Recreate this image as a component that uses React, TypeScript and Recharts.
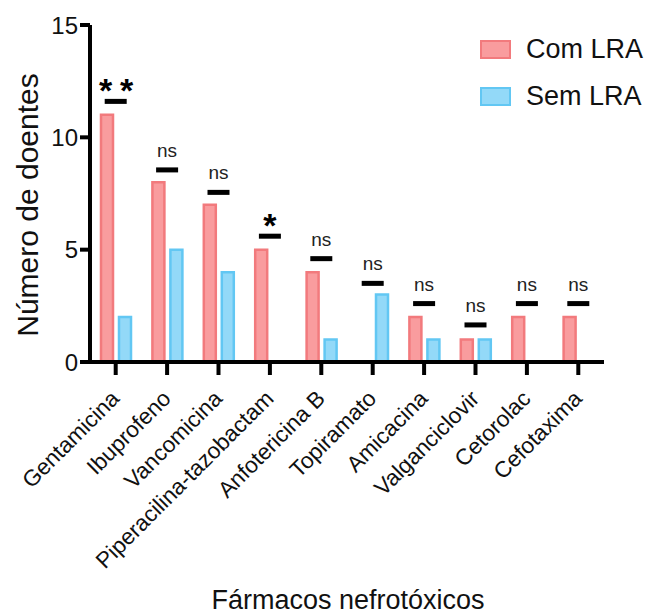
import React from 'react';
import { ComposedChart, Bar, Scatter, XAxis, YAxis, Legend } from 'recharts';

// drug names (x categories)
const farmacos = [
  'Gentamicina',
  'Ibuprofeno',
  'Vancomicina',
  'Piperacilina-tazobactam',
  'Anfotericina B',
  'Topiramato',
  'Amicacina',
  'Valganciclovir',
  'Cetorolac',
  'Cefotaxima',
];

const comLRA = [11, 8, 7, 5, 4, 0, 2, 1, 2, 2];
const semLRA = [2, 5, 4, 0, 1, 3, 1, 1, 0, 0];

// height of the significance bar and its label
const sigLevel = [11.6, 8.55, 7.55, 5.6, 4.6, 3.5, 2.6, 1.65, 2.6, 2.6];
const sigLabel = ['**', 'ns', 'ns', '*', 'ns', 'ns', 'ns', 'ns', 'ns', 'ns'];

const yTicks = [0, 5, 10, 15];

const data = farmacos.map((name, i) => ({
  name,
  com: comLRA[i],
  sem: semLRA[i],
  sig: sigLevel[i],
  label: sigLabel[i],
}));

const FONT = '"Liberation Sans", Arial, Helvetica, sans-serif';

const RED_FILL = '#F99C9E';
const RED_STROKE = '#F27A7D';
const BLUE_FILL = '#93D9F8';
const BLUE_STROKE = '#62C7F3';

const Star = ({ x, y }: { x: number; y: number }) => (
  <text x={x} y={y} textAnchor="middle" fontSize={34} fontWeight="bold" fill="#000" fontFamily={FONT}>
    *
  </text>
);

const SigMark = (props: any) => {
  const { cx, cy, payload } = props;
  if (cx == null || cy == null) return null;
  const label: string = payload.label;
  return (
    <g>
      <rect x={cx - 11} y={cy - 2.5} width={22} height={5} fill="#000" />
      {label === 'ns' ? (
        <text x={cx} y={cy - 13} textAnchor="middle" fontSize={19} fill="#222" fontFamily={FONT}>
          ns
        </text>
      ) : label === '**' ? (
        <g>
          <Star x={cx - 10} y={cy + 1} />
          <Star x={cx + 11} y={cy + 1} />
        </g>
      ) : (
        <Star x={cx} y={cy + 1} />
      )}
    </g>
  );
};

const XTick = (props: any) => {
  const { x, y, payload } = props;
  return (
    <g transform={`translate(${x + 5},${y + 23})`}>
      <text x={0} y={0} textAnchor="end" transform="rotate(-45)" fontSize={22.5} fill="#111" fontFamily={FONT}>
        {payload.value}
      </text>
    </g>
  );
};

const LegendBox = () => {
  const rows = [
    { name: 'Com LRA', fill: RED_FILL, stroke: RED_STROKE },
    { name: 'Sem LRA', fill: BLUE_FILL, stroke: BLUE_STROKE },
  ];
  return (
    <div style={{ fontFamily: FONT }}>
      {rows.map((r) => (
        <div key={r.name} style={{ display: 'flex', alignItems: 'center', height: 47 }}>
          <div
            style={{
              width: 27,
              height: 15,
              background: r.fill,
              border: `2.5px solid ${r.stroke}`,
              marginRight: 15,
            }}
          />
          <span style={{ fontSize: 27, color: '#111' }}>{r.name}</span>
        </div>
      ))}
    </div>
  );
};

export default function App() {
  return (
    <div style={{ position: 'absolute', left: 0, top: 0, width: 648, height: 615, background: '#fff', fontFamily: FONT }}>
      <ComposedChart
        width={648}
        height={615}
        data={data}
        margin={{ top: 25, right: 44, bottom: 53, left: 0 }}
        barGap={6}
      >
        <XAxis
          dataKey="name"
          height={200}
          interval={0}
          axisLine={{ stroke: '#000', strokeWidth: 4 }}
          tickLine={{ stroke: '#000', strokeWidth: 4 }}
          tickSize={13}
          tick={<XTick />}
        />
        <YAxis
          width={90}
          domain={[0, 15]}
          ticks={yTicks}
          axisLine={{ stroke: '#000', strokeWidth: 4 }}
          tickLine={{ stroke: '#000', strokeWidth: 4 }}
          tickSize={10}
          tick={{ fontSize: 24, fill: '#111', fontFamily: FONT }}
        />
        <Legend
          layout="vertical"
          align="center"
          verticalAlign="middle"
          wrapperStyle={{ left: 480, top: 26, width: 168, height: 100 }}
          content={<LegendBox />}
        />
        <Bar dataKey="com" name="Com LRA" fill={RED_FILL} stroke={RED_STROKE} strokeWidth={2.5} barSize={12} isAnimationActive={false} />
        <Bar dataKey="sem" name="Sem LRA" fill={BLUE_FILL} stroke={BLUE_STROKE} strokeWidth={2.5} barSize={12} isAnimationActive={false} />
        <Scatter dataKey="sig" legendType="none" shape={<SigMark />} isAnimationActive={false} />
      </ComposedChart>
      <div
        style={{
          position: 'absolute',
          left: 28,
          top: 205,
          transform: 'translate(-50%, -50%) rotate(-90deg)',
          fontSize: 30,
          lineHeight: 1,
          color: '#111',
          whiteSpace: 'nowrap',
        }}
      >
        Número de doentes
      </div>
      <div
        style={{
          position: 'absolute',
          left: 348,
          top: 600,
          transform: 'translate(-50%, -50%)',
          fontSize: 27,
          lineHeight: 1,
          color: '#111',
          whiteSpace: 'nowrap',
        }}
      >
        Fármacos nefrotóxicos
      </div>
    </div>
  );
}
